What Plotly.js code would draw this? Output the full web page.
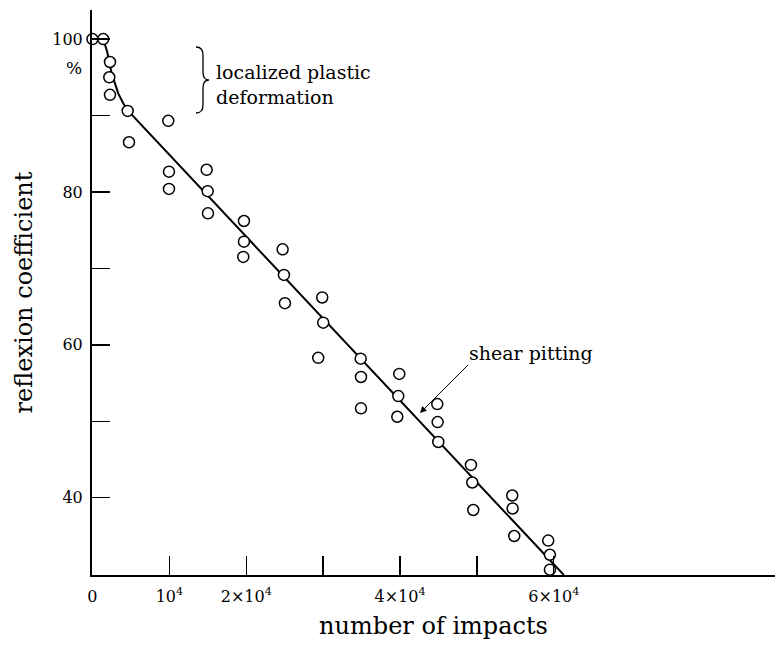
<!DOCTYPE html>
<html>
<head>
<meta charset="utf-8">
<script src="https://cdn.plot.ly/plotly-3.0.1.min.js"></script>
<style>html,body{margin:0;padding:0;background:#fff;}#chart{width:777px;height:646px;}</style>
</head>
<body>
<div id="chart"></div>
<script>
// measured data points (number of impacts, reflexion coefficient %)
const impacts = [0,1400,2280,2190,2280,4580,9860,4750,9950,9950,14850,14980,15020,19700,19700,19610,24730,24900,25030,29880,30010,29360,34880,34920,34920,39900,39770,39640,44840,44890,44970,49220,49390,49520,54590,54640,54850,59270,59490,59490];
const reflexion = [100,100,97.0,95.0,92.7,90.6,89.3,86.5,82.65,80.4,82.9,80.1,77.2,76.2,73.5,71.5,72.5,69.15,65.45,66.2,62.9,58.3,58.2,55.8,51.7,56.2,53.3,50.6,52.25,49.9,47.3,44.3,42.0,38.4,40.3,38.6,35.0,34.4,32.55,30.6];
// fitted curve
const fitImpacts = [1400,1920,2180,2540,2930,3350,4000,4650,61300];
const fitReflexion = [100,98.3,97.0,95.3,94.2,92.9,91.6,90.6,29.9];
// ticks
const xTickVals = [0,10000,20000,40000,60000];
const xTickText = ['0','10<sup>4</sup>','2×10<sup>4</sup>','4×10<sup>4</sup>','6×10<sup>4</sup>'];
const xMinorVals = [30000,50000];
const yTickVals = [40,60,80,100];
const yTickText = ['40','60','80','100'];
const yMinorVals = [50,70,90];

const W = 777, H = 646, ML = 92, MR = 2, MT = 10, MB = 71;
const PW = W - ML - MR, PH = H - MT - MB;
function px(x){ return (x - ML) / PW; }
function py(y){ return (H - MB - y) / PH; }

const serif = 'DejaVu Serif';

const traces = [
  {x: fitImpacts, y: fitReflexion, type: 'scatter', mode: 'lines',
   line: {color: '#000', width: 2}, hoverinfo: 'skip'},
  {x: impacts, y: reflexion, type: 'scatter', mode: 'markers', cliponaxis: false,
   marker: {symbol: 'circle', size: 11, color: '#fff', line: {color: '#000', width: 1.5}}}
];

const bracePath = 'M ' + px(196) + ' ' + py(47) +
  ' Q ' + px(203) + ' ' + py(47) + ' ' + px(203) + ' ' + py(55) +
  ' L ' + px(203) + ' ' + py(72) +
  ' Q ' + px(203) + ' ' + py(80) + ' ' + px(209) + ' ' + py(80) +
  ' Q ' + px(203) + ' ' + py(80) + ' ' + px(203) + ' ' + py(88) +
  ' L ' + px(203) + ' ' + py(105) +
  ' Q ' + px(203) + ' ' + py(113) + ' ' + px(196) + ' ' + py(113);

const layout = {
  width: W, height: H,
  margin: {l: ML, r: MR, t: MT, b: MB, pad: 0},
  paper_bgcolor: '#fff', plot_bgcolor: '#fff',
  showlegend: false,
  font: {family: serif, color: '#000'},
  xaxis: {
    range: [-60, 88760], showgrid: false, zeroline: false,
    showline: true, linecolor: '#000', linewidth: 2,
    ticks: 'inside', ticklen: 19, tickwidth: 1.3, tickcolor: '#000',
    tickmode: 'array', tickvals: xTickVals, ticktext: xTickText,
    minor: {tickmode: 'array', tickvals: xMinorVals, ticks: 'inside', ticklen: 19, tickwidth: 1.3, tickcolor: '#000', showgrid: false},
    ticklabelstandoff: 6,
    tickfont: {family: serif, size: 16, color: '#000'},
    title: {text: 'number of impacts', font: {family: serif, size: 24, color: '#000'}, standoff: 12}
  },
  yaxis: {
    range: [29.9, 103.8], showgrid: false, zeroline: false,
    showline: true, linecolor: '#000', linewidth: 2,
    ticks: 'inside', ticklen: 18, tickwidth: 1.3, tickcolor: '#000',
    tickmode: 'array', tickvals: yTickVals, ticktext: yTickText,
    minor: {tickmode: 'array', tickvals: yMinorVals, ticks: 'inside', ticklen: 18, tickwidth: 1.3, tickcolor: '#000', showgrid: false},
    ticklabelstandoff: 4,
    tickfont: {family: serif, size: 16, color: '#000'},
    title: {text: 'reflexion coefficient', font: {family: serif, size: 24, color: '#000'}, standoff: 13}
  },
  shapes: [
    {type: 'path', xref: 'paper', yref: 'paper', path: bracePath,
     line: {color: '#000', width: 1.3}}
  ],
  annotations: [
    {xref: 'paper', yref: 'paper', x: px(74), y: py(68), text: '%', showarrow: false,
     font: {family: serif, size: 17, color: '#000'}, xanchor: 'center', yanchor: 'middle'},
    {xref: 'paper', yref: 'paper', x: px(214), y: py(84), text: 'localized plastic<br>deformation',
     showarrow: false, align: 'left', xanchor: 'left', yanchor: 'middle',
     font: {family: serif, size: 19, color: '#000'}},
    {xref: 'paper', yref: 'paper', x: px(420), y: py(413), axref: 'pixel', ayref: 'pixel',
     ax: 48, ay: -48, text: 'shear pitting', xanchor: 'left', yanchor: 'bottom',
     showarrow: true, arrowhead: 2, arrowsize: 1.3, arrowwidth: 1,
     arrowcolor: '#000', standoff: 0, borderpad: 0,
     font: {family: serif, size: 19, color: '#000'}}
  ]
};

Plotly.newPlot('chart', traces, layout, {displayModeBar: false, staticPlot: true});
</script>
</body>
</html>
